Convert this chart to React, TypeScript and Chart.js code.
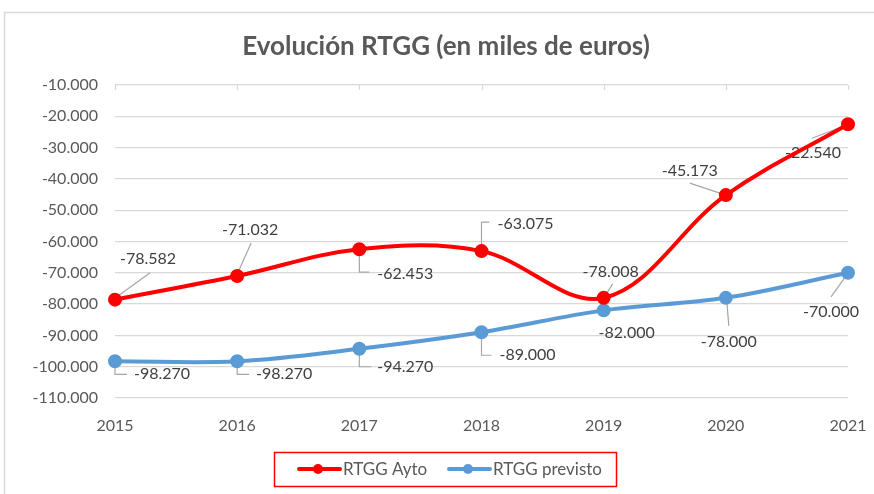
import { useEffect, useRef } from 'react';
import { Chart, registerables } from 'chart.js';

Chart.register(...registerables);

// ---- data ----
const years = ['2015', '2016', '2017', '2018', '2019', '2020', '2021'];
const rtggAyto = [-78582, -71032, -62453, -63075, -78008, -45173, -22540];
const rtggPrevisto = [-98270, -98270, -94270, -89000, -82000, -78000, -70000];
const seriesNames = ['RTGG Ayto', 'RTGG previsto'];
const titleText = 'Evolución RTGG (en miles de euros)';
const yMin = -110000;
const yMax = -10000;
const yStep = 10000;

// ---- label placement (style only: offsets relative to each point) ----
type Place = { dx: number; dy: number; leader: number[][] | null };
const aytoPlacement: Place[] = [
  { dx: 33, dy: -41, leader: [[2, -3], [35, -27]] },
  { dx: 13, dy: -46, leader: [[1, -4], [14, -33]] },
  { dx: 46, dy: 25, leader: [[0, 4], [0, 23], [10, 23]] },
  { dx: 44, dy: -27, leader: [[0, -4], [0, -29], [8, -29]] },
  { dx: 7, dy: -26, leader: [[2, -3], [9, -14]] },
  { dx: -36, dy: -24, leader: [[-3, -1], [-36, -12]] },
  { dx: -35, dy: 29, leader: [[-2, 1], [-36, 14]] },
];
const previstoPlacement: Place[] = [
  { dx: 47, dy: 13, leader: [[0, 4], [0, 13], [12, 13]] },
  { dx: 47, dy: 13, leader: [[0, 4], [0, 13], [12, 13]] },
  { dx: 46, dy: 18, leader: [[0, 4], [0, 18], [12, 18]] },
  { dx: 46, dy: 23, leader: [[0, 4], [0, 23], [10, 23]] },
  { dx: 23, dy: 22, leader: null },
  { dx: 3, dy: 44, leader: [[1, 4], [3, 28]] },
  { dx: -17, dy: 39, leader: [[-2, 3], [-17, 24]] },
];

const RED = '#FF0000';
const BLUE = '#5B9BD5';
const AXIS_TEXT = '#595959';
const LABEL_TEXT = '#404040';
const GRID = '#D9D9D9';
const LEADER = '#A6A6A6';
const FONT = 'Lato, "Open Sans", sans-serif';

function fmt(v: number): string {
  const sign = v < 0 ? '-' : '';
  const s = Math.round(Math.abs(v)).toString();
  return sign + s.replace(/\B(?=(\d{3})+(?!\d))/g, '.');
}

const decorPlugin = {
  id: 'decor',
  beforeDraw(chart: any) {
    const ctx = chart.ctx;
    ctx.save();
    ctx.fillStyle = '#FFFFFF';
    ctx.fillRect(0, 0, chart.width, chart.height);
    ctx.strokeStyle = GRID;
    ctx.lineWidth = 1.5;
    ctx.strokeRect(4.5, 12.5, chart.width + 20, chart.height + 20);
    // title
    ctx.fillStyle = AXIS_TEXT;
    ctx.font = `bold 26px ${FONT}`;
    ctx.textAlign = 'center';
    ctx.textBaseline = 'middle';
    ctx.fillText(titleText, 446, 47);
    ctx.restore();
  },
  beforeDatasetsDraw(chart: any) {
    const ctx = chart.ctx;
    const xs = chart.scales.x;
    const area = chart.chartArea;
    ctx.save();
    // category tick marks on top axis line
    ctx.strokeStyle = GRID;
    ctx.lineWidth = 1.3;
    years.forEach((_, i) => {
      const x = Math.round(xs.getPixelForValue(i)) + 0.5;
      ctx.beginPath();
      ctx.moveTo(x, area.top);
      ctx.lineTo(x, area.top + 5);
      ctx.stroke();
    });
    // data labels with leader lines
    const sets: [number, Place[]][] = [[0, aytoPlacement], [1, previstoPlacement]];
    ctx.font = `16px ${FONT}`;
    ctx.textAlign = 'center';
    ctx.textBaseline = 'middle';
    sets.forEach(([di, places]) => {
      const meta = chart.getDatasetMeta(di);
      const values = chart.data.datasets[di].data as number[];
      meta.data.forEach((pt: any, i: number) => {
        const p = places[i];
        if (p.leader) {
          ctx.strokeStyle = LEADER;
          ctx.lineWidth = 1.2;
          ctx.beginPath();
          p.leader.forEach(([lx, ly], k) => {
            const X = pt.x + lx;
            const Y = pt.y + ly;
            if (k === 0) ctx.moveTo(X, Y);
            else ctx.lineTo(X, Y);
          });
          ctx.stroke();
        }
        ctx.fillStyle = LABEL_TEXT;
        ctx.fillText(fmt(values[i]), pt.x + p.dx, pt.y + p.dy);
      });
    });
    ctx.restore();
  },
  afterDraw(chart: any) {
    const ctx = chart.ctx;
    ctx.save();
    // legend box
    ctx.strokeStyle = RED;
    ctx.lineWidth = 1.5;
    ctx.strokeRect(274.5, 452.5, 342, 34);
    const cy = 469;
    const items: [string, string, number][] = [
      [seriesNames[0], RED, 299],
      [seriesNames[1], BLUE, 449],
    ];
    ctx.font = `17px ${FONT}`;
    ctx.textAlign = 'left';
    ctx.textBaseline = 'middle';
    items.forEach(([name, color, x0]) => {
      ctx.strokeStyle = color;
      ctx.lineWidth = 4;
      ctx.lineCap = 'round';
      ctx.beginPath();
      ctx.moveTo(x0, cy);
      ctx.lineTo(x0 + 41, cy);
      ctx.stroke();
      ctx.fillStyle = color;
      ctx.beginPath();
      ctx.arc(x0 + 19, cy, 5, 0, Math.PI * 2);
      ctx.fill();
      ctx.fillStyle = AXIS_TEXT;
      ctx.fillText(name, x0 + 44, cy + 1);
    });
    ctx.restore();
  },
};

export default function App() {
  const ref = useRef<HTMLCanvasElement>(null);
  useEffect(() => {
    if (!ref.current) return;
    const chart = new Chart(ref.current, {
      type: 'line',
      data: {
        labels: years,
        datasets: [
          {
            label: seriesNames[0],
            data: rtggAyto,
            borderColor: RED,
            backgroundColor: RED,
            pointBackgroundColor: RED,
            pointBorderColor: RED,
            borderWidth: 4,
            pointRadius: 5,
            tension: 0.36,
            clip: false as any,
          },
          {
            label: seriesNames[1],
            data: rtggPrevisto,
            borderColor: BLUE,
            backgroundColor: BLUE,
            pointBackgroundColor: BLUE,
            pointBorderColor: BLUE,
            borderWidth: 4,
            pointRadius: 5,
            tension: 0.36,
            clip: false as any,
          },
        ],
      },
      options: {
        responsive: false,
        animation: false,
        devicePixelRatio: 1,
        layout: { padding: { left: 0, right: 26, top: 85, bottom: 0 } },
        plugins: {
          legend: { display: false },
          tooltip: { enabled: false },
          title: { display: false },
        },
        scales: {
          x: {
            type: 'category',
            offset: false,
            grid: { display: false, drawTicks: false },
            border: { display: false },
            ticks: {
              color: AXIS_TEXT,
              font: { family: FONT, size: 16 },
              padding: 18,
              maxRotation: 0,
              autoSkip: false,
            },
            afterFit: (s: any) => {
              s.height = 96;
              s.paddingLeft = 0;
              s.paddingRight = 0;
            },
          },
          y: {
            min: yMin,
            max: yMax,
            ticks: {
              stepSize: yStep,
              color: AXIS_TEXT,
              font: { family: FONT, size: 16 },
              padding: 17,
              callback: (v: any) => fmt(Number(v)),
            },
            grid: { color: GRID, lineWidth: 1.3, drawTicks: false },
            border: { display: false },
            afterFit: (s: any) => {
              s.width = 115;
              s.paddingTop = 0;
              s.paddingBottom = 0;
            },
          },
        },
      },
      plugins: [decorPlugin],
    });
    return () => chart.destroy();
  }, []);
  return (
    <div style={{ position: 'absolute', left: 0, top: 0, width: 874, height: 494, background: '#fff' }}>
      <canvas ref={ref} width={874} height={494} style={{ width: 874, height: 494, display: 'block' }} />
    </div>
  );
}
